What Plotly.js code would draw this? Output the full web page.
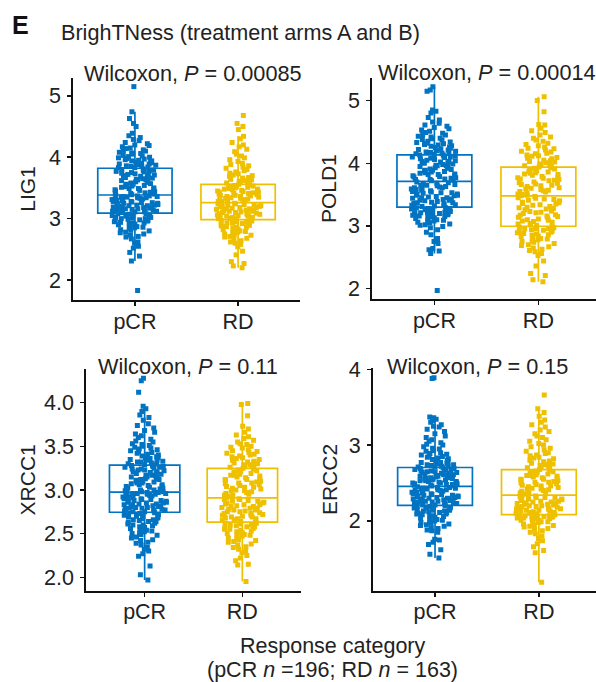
<!DOCTYPE html>
<html><head><meta charset="utf-8">
<script src="https://cdn.plot.ly/plotly-3.0.1.min.js"></script>
<style>html,body{margin:0;padding:0;background:#fff}#chart{width:596px;height:682px}</style>
</head><body><div id="chart"></div>
<script>
// ---------- data ----------
const categories = ['pCR', 'RD'];
const genes = ['LIG1', 'POLD1', 'XRCC1', 'ERCC2'];
const pValues = ['0.00085', '0.00014', '0.11', '0.15'];
const groupSizes = [196, 163];

const lig1_pCR = [1.83, 2.31, 2.39, 2.45, 2.52, 2.55, 2.6, 2.62, 2.67, 2.7, 2.71, 2.73, 2.75, 2.77, 2.78, 2.8, 2.81, 2.82, 2.84, 2.85, 2.86, 2.87, 2.89, 2.9, 2.91, 2.92, 2.93, 2.93, 2.94, 2.95, 2.96, 2.97, 2.97, 2.98, 2.99, 3.0, 3.0, 3.01, 3.02, 3.02, 3.03, 3.04, 3.04, 3.05, 3.06, 3.06, 3.07, 3.08, 3.08,
  3.10, 3.11, 3.11, 3.12, 3.12, 3.13, 3.14, 3.14, 3.15, 3.15, 3.16, 3.16, 3.17, 3.18, 3.18, 3.19, 3.19, 3.2, 3.21, 3.21, 3.22, 3.22, 3.23, 3.23, 3.24, 3.25, 3.25, 3.26, 3.26, 3.27, 3.28, 3.28, 3.29, 3.29, 3.3, 3.31, 3.31, 3.32, 3.32, 3.33, 3.34, 3.34, 3.35, 3.35, 3.36, 3.36, 3.37, 3.37, 3.38,
  3.39, 3.40, 3.41, 3.41, 3.42, 3.43, 3.44, 3.45, 3.46, 3.47, 3.48, 3.49, 3.49, 3.5, 3.51, 3.52, 3.53, 3.54, 3.55, 3.56, 3.56, 3.57, 3.58, 3.59, 3.6, 3.61, 3.62, 3.63, 3.63, 3.64, 3.65, 3.66, 3.67, 3.68, 3.69, 3.7, 3.7, 3.71, 3.72, 3.73, 3.74, 3.75, 3.76, 3.77, 3.77, 3.78, 3.79, 3.8, 3.81,
  3.83, 3.83, 3.84, 3.85, 3.85, 3.86, 3.87, 3.88, 3.89, 3.89, 3.90, 3.91, 3.92, 3.93, 3.94, 3.94, 3.95, 3.96, 3.97, 3.98, 3.99, 4.0, 4.01, 4.02, 4.03, 4.05, 4.06, 4.07, 4.08, 4.10, 4.11, 4.12, 4.14, 4.15, 4.17, 4.19, 4.2, 4.22, 4.24, 4.27, 4.29, 4.32, 4.35, 4.39, 4.5, 4.55, 4.63, 4.74, 5.15];
const lig1_RD = [2.2, 2.23, 2.27, 2.3, 2.41, 2.47, 2.54, 2.58, 2.6, 2.62, 2.64, 2.66, 2.68, 2.7, 2.71, 2.73, 2.74, 2.75, 2.77, 2.78, 2.79, 2.8, 2.81, 2.82, 2.83, 2.85, 2.86, 2.86, 2.87, 2.88, 2.89, 2.9, 2.91, 2.92, 2.93, 2.93, 2.94, 2.95, 2.96, 2.97, 2.98,
  2.99, 3.0, 3.0, 3.01, 3.02, 3.02, 3.03, 3.04, 3.04, 3.05, 3.06, 3.06, 3.07, 3.08, 3.08, 3.09, 3.1, 3.1, 3.11, 3.12, 3.12, 3.13, 3.14, 3.14, 3.15, 3.16, 3.16, 3.17, 3.18, 3.18, 3.19, 3.2, 3.2, 3.21, 3.22, 3.22, 3.23, 3.24, 3.24, 3.25,
  3.26,
  3.27, 3.28, 3.28, 3.29, 3.3, 3.31, 3.31, 3.32, 3.33, 3.33, 3.34, 3.35, 3.36, 3.36, 3.37, 3.38, 3.38, 3.39, 3.4, 3.41, 3.41, 3.42, 3.43, 3.43, 3.44, 3.45, 3.46, 3.46, 3.47, 3.48, 3.48, 3.49, 3.5, 3.51, 3.51, 3.52, 3.53, 3.53, 3.54, 3.55,
  3.56, 3.57, 3.58, 3.59, 3.6, 3.61, 3.62, 3.63, 3.64, 3.65, 3.66, 3.67, 3.69, 3.7, 3.71, 3.73, 3.74, 3.76, 3.78, 3.8, 3.82, 3.84, 3.86, 3.88, 3.9, 3.93, 3.96, 3.99, 4.02, 4.05, 4.09, 4.13, 4.17, 4.2, 4.24, 4.3, 4.34, 4.45, 4.5, 4.55, 4.68];

const pold1_pCR = [1.97, 2.56, 2.6, 2.62, 2.64, 2.72, 2.75, 2.8, 2.86, 2.9, 2.94, 2.97, 2.99, 3.01, 3.02, 3.03, 3.05, 3.06, 3.07, 3.08, 3.09, 3.10, 3.11, 3.12, 3.13, 3.14, 3.15, 3.15, 3.16, 3.17, 3.18, 3.19, 3.19, 3.20, 3.21, 3.21, 3.22, 3.23, 3.23, 3.24, 3.25, 3.25, 3.26, 3.27, 3.27, 3.28, 3.28, 3.29, 3.29,
  3.31, 3.32, 3.33, 3.33, 3.34, 3.35, 3.36, 3.37, 3.37, 3.38, 3.39, 3.40, 3.41, 3.41, 3.42, 3.43, 3.44, 3.45, 3.45, 3.46, 3.47, 3.48, 3.49, 3.49, 3.5, 3.51, 3.52, 3.53, 3.53, 3.54, 3.55, 3.56, 3.57, 3.57, 3.58, 3.59, 3.6, 3.61, 3.61, 3.62, 3.63, 3.64, 3.65, 3.65, 3.66, 3.67, 3.68, 3.69, 3.70,
  3.72, 3.73, 3.74, 3.74, 3.75, 3.76, 3.77, 3.78, 3.79, 3.8, 3.81, 3.82, 3.82, 3.83, 3.84, 3.85, 3.86, 3.87, 3.88, 3.89, 3.89, 3.9, 3.91, 3.92, 3.93, 3.94, 3.95, 3.96, 3.96, 3.97, 3.98, 3.99, 4.0, 4.01, 4.02, 4.03, 4.03, 4.04, 4.05, 4.06, 4.07, 4.08, 4.09, 4.1, 4.1, 4.11, 4.12, 4.13, 4.13,
  4.14, 4.15, 4.16, 4.16, 4.17, 4.18, 4.19, 4.2, 4.21, 4.22, 4.23, 4.24, 4.25, 4.26, 4.27, 4.28, 4.29, 4.30, 4.31, 4.32, 4.33, 4.34, 4.35, 4.37, 4.38, 4.39, 4.4, 4.42, 4.43, 4.45, 4.46, 4.48, 4.49, 4.51, 4.53, 4.55, 4.57, 4.59, 4.61, 4.64, 4.66, 4.69, 4.73, 4.8, 4.83, 4.85, 5.15, 5.17, 5.22];
const pold1_RD = [2.11, 2.14, 2.21, 2.24, 2.36, 2.44, 2.53, 2.56, 2.59, 2.61, 2.63, 2.65, 2.67, 2.69, 2.70, 2.72, 2.74, 2.75, 2.76, 2.78, 2.79, 2.80, 2.81, 2.83, 2.84, 2.85, 2.86, 2.87, 2.88, 2.89, 2.90, 2.91, 2.92, 2.93, 2.94, 2.95, 2.96, 2.96, 2.97, 2.98, 2.99,
  3.01, 3.02, 3.03, 3.04, 3.06, 3.07, 3.08, 3.09, 3.1, 3.11, 3.13, 3.14, 3.15, 3.16, 3.17, 3.18, 3.2, 3.21, 3.22, 3.23, 3.24, 3.26, 3.27, 3.28, 3.29, 3.3, 3.31, 3.33, 3.34, 3.35, 3.36, 3.37, 3.38, 3.4, 3.41, 3.42, 3.43, 3.44, 3.45, 3.47,
  3.48,
  3.49, 3.5, 3.51, 3.52, 3.54, 3.55, 3.56, 3.57, 3.58, 3.59, 3.6, 3.61, 3.63, 3.64, 3.65, 3.66, 3.67, 3.68, 3.69, 3.7, 3.72, 3.73, 3.74, 3.75, 3.76, 3.77, 3.78, 3.79, 3.81, 3.82, 3.83, 3.84, 3.85, 3.86, 3.87, 3.88, 3.9, 3.91, 3.92, 3.93,
  3.94, 3.95, 3.96, 3.97, 3.98, 3.99, 4.01, 4.02, 4.03, 4.04, 4.05, 4.07, 4.08, 4.09, 4.11, 4.12, 4.13, 4.15, 4.16, 4.18, 4.19, 4.21, 4.23, 4.24, 4.26, 4.28, 4.30, 4.32, 4.35, 4.37, 4.40, 4.42, 4.45, 4.49, 4.52, 4.56, 4.61, 4.62, 4.82, 5.0, 5.06];

const xrcc1_pCR = [1.97, 2.03, 2.13, 2.24, 2.27, 2.3, 2.32, 2.34, 2.37, 2.39, 2.40, 2.42, 2.43, 2.45, 2.46, 2.48, 2.49, 2.5, 2.51, 2.52, 2.53, 2.54, 2.55, 2.56, 2.57, 2.58, 2.59, 2.6, 2.6, 2.61, 2.62, 2.63, 2.64, 2.64, 2.65, 2.66, 2.66, 2.67, 2.68, 2.69, 2.69, 2.70, 2.70, 2.71, 2.72, 2.72, 2.73, 2.73, 2.74,
  2.75, 2.75, 2.76, 2.76, 2.77, 2.77, 2.78, 2.78, 2.79, 2.79, 2.8, 2.8, 2.81, 2.81, 2.82, 2.82, 2.83, 2.83, 2.84, 2.84, 2.85, 2.85, 2.86, 2.86, 2.87, 2.87, 2.88, 2.88, 2.89, 2.89, 2.9, 2.9, 2.91, 2.91, 2.92, 2.92, 2.93, 2.93, 2.94, 2.94, 2.95, 2.95, 2.95, 2.96, 2.96, 2.96, 2.97, 2.97, 2.97,
  2.98, 2.98, 2.99, 3.0, 3.0, 3.01, 3.02, 3.02, 3.03, 3.04, 3.04, 3.05, 3.06, 3.06, 3.07, 3.08, 3.08, 3.09, 3.1, 3.1, 3.11, 3.12, 3.12, 3.13, 3.13, 3.14, 3.15, 3.15, 3.16, 3.17, 3.17, 3.18, 3.19, 3.19, 3.2, 3.21, 3.21, 3.22, 3.23, 3.23, 3.24, 3.24, 3.25, 3.26, 3.26, 3.27, 3.27, 3.28, 3.28,
  3.29, 3.3, 3.3, 3.31, 3.32, 3.32, 3.33, 3.34, 3.34, 3.35, 3.36, 3.37, 3.37, 3.38, 3.39, 3.4, 3.41, 3.42, 3.43, 3.44, 3.45, 3.46, 3.47, 3.48, 3.49, 3.5, 3.51, 3.52, 3.53, 3.55, 3.56, 3.58, 3.6, 3.62, 3.64, 3.66, 3.68, 3.71, 3.74, 3.76, 3.8, 3.83, 3.86, 3.9, 3.93, 3.96, 4.12, 4.25, 4.28];
const xrcc1_RD = [1.95, 2.14, 2.15, 2.19, 2.22, 2.25, 2.28, 2.30, 2.32, 2.34, 2.35, 2.37, 2.38, 2.40, 2.41, 2.42, 2.43, 2.45, 2.46, 2.47, 2.48, 2.49, 2.49, 2.5, 2.51, 2.52, 2.53, 2.54, 2.55, 2.55, 2.56, 2.57, 2.58, 2.58, 2.59, 2.6, 2.6, 2.61, 2.62, 2.62, 2.63,
  2.64, 2.65, 2.65, 2.66, 2.67, 2.67, 2.68, 2.69, 2.69, 2.7, 2.71, 2.71, 2.72, 2.73, 2.73, 2.74, 2.75, 2.75, 2.76, 2.77, 2.77, 2.78, 2.79, 2.79, 2.8, 2.81, 2.81, 2.82, 2.83, 2.83, 2.84, 2.85, 2.85, 2.86, 2.87, 2.87, 2.88, 2.89, 2.89, 2.9,
  2.91,
  2.92, 2.93, 2.94, 2.94, 2.95, 2.96, 2.97, 2.98, 2.99, 2.99, 3.0, 3.01, 3.02, 3.03, 3.03, 3.04, 3.05, 3.06, 3.07, 3.08, 3.08, 3.09, 3.1, 3.11, 3.12, 3.12, 3.13, 3.14, 3.15, 3.16, 3.17, 3.17, 3.18, 3.19, 3.2, 3.21, 3.21, 3.22, 3.23, 3.24,
  3.25, 3.26, 3.26, 3.27, 3.28, 3.29, 3.29, 3.3, 3.31, 3.32, 3.32, 3.33, 3.34, 3.35, 3.36, 3.37, 3.38, 3.39, 3.40, 3.41, 3.42, 3.43, 3.44, 3.45, 3.46, 3.48, 3.49, 3.50, 3.52, 3.53, 3.55, 3.57, 3.59, 3.61, 3.63, 3.66, 3.7, 3.73, 3.85, 3.98, 3.99];

const ercc2_pCR = [1.51, 1.56, 1.62, 1.69, 1.72, 1.75, 1.76, 1.85, 1.87, 1.88, 1.90, 1.91, 1.93, 1.94, 1.95, 1.96, 1.97, 1.98, 1.99, 2.0, 2.01, 2.02, 2.03, 2.04, 2.05, 2.06, 2.06, 2.07, 2.08, 2.09, 2.09, 2.1, 2.11, 2.11, 2.12, 2.13, 2.13, 2.14, 2.14, 2.15, 2.16, 2.16, 2.17, 2.17, 2.18, 2.18, 2.19, 2.19, 2.2,
  2.21, 2.21, 2.22, 2.22, 2.23, 2.23, 2.24, 2.24, 2.25, 2.25, 2.26, 2.26, 2.27, 2.27, 2.28, 2.28, 2.29, 2.29, 2.3, 2.3, 2.31, 2.31, 2.32, 2.32, 2.33, 2.33, 2.34, 2.34, 2.35, 2.35, 2.36, 2.36, 2.37, 2.37, 2.38, 2.38, 2.39, 2.39, 2.4, 2.4, 2.41, 2.41, 2.42, 2.42, 2.43, 2.43, 2.44, 2.44, 2.45,
  2.46, 2.46, 2.47, 2.47, 2.48, 2.48, 2.49, 2.49, 2.5, 2.5, 2.51, 2.51, 2.52, 2.52, 2.53, 2.53, 2.54, 2.54, 2.55, 2.55, 2.56, 2.56, 2.57, 2.57, 2.58, 2.58, 2.59, 2.59, 2.6, 2.6, 2.61, 2.61, 2.62, 2.62, 2.63, 2.63, 2.64, 2.64, 2.65, 2.65, 2.66, 2.66, 2.67, 2.67, 2.68, 2.68, 2.69, 2.69, 2.7,
  2.71, 2.71, 2.72, 2.72, 2.73, 2.74, 2.74, 2.75, 2.76, 2.77, 2.77, 2.78, 2.79, 2.8, 2.81, 2.82, 2.83, 2.84, 2.85, 2.86, 2.87, 2.88, 2.89, 2.9, 2.92, 2.93, 2.95, 2.96, 2.98, 3.0, 3.01, 3.03, 3.05, 3.07, 3.1, 3.12, 3.15, 3.18, 3.21, 3.24, 3.25, 3.27, 3.3, 3.32, 3.34, 3.36, 3.37, 3.88, 3.89];
const ercc2_RD = [1.19, 1.58, 1.61, 1.66, 1.7, 1.74, 1.77, 1.8, 1.83, 1.85, 1.87, 1.89, 1.9, 1.92, 1.93, 1.94, 1.95, 1.96, 1.97, 1.98, 1.99, 1.99, 2.0, 2.01, 2.01, 2.02, 2.03, 2.03, 2.04, 2.04, 2.05, 2.05, 2.06, 2.06, 2.06, 2.07, 2.07, 2.07, 2.08, 2.08, 2.08,
  2.09, 2.1, 2.1, 2.11, 2.11, 2.12, 2.13, 2.13, 2.14, 2.14, 2.15, 2.16, 2.16, 2.17, 2.17, 2.18, 2.19, 2.19, 2.2, 2.2, 2.21, 2.22, 2.22, 2.23, 2.23, 2.24, 2.25, 2.25, 2.26, 2.26, 2.27, 2.28, 2.28, 2.29, 2.29, 2.3, 2.31, 2.31, 2.32, 2.33,
  2.34,
  2.35, 2.36, 2.37, 2.37, 2.38, 2.39, 2.4, 2.41, 2.42, 2.42, 2.43, 2.44, 2.45, 2.46, 2.46, 2.47, 2.48, 2.49, 2.5, 2.51, 2.51, 2.52, 2.53, 2.54, 2.55, 2.55, 2.56, 2.57, 2.58, 2.59, 2.6, 2.6, 2.61, 2.62, 2.63, 2.64, 2.64, 2.65, 2.66, 2.67,
  2.68, 2.69, 2.7, 2.71, 2.72, 2.73, 2.74, 2.75, 2.76, 2.77, 2.78, 2.79, 2.8, 2.82, 2.83, 2.84, 2.86, 2.87, 2.89, 2.9, 2.92, 2.94, 2.96, 2.98, 3.0, 3.02, 3.05, 3.07, 3.1, 3.12, 3.15, 3.18, 3.2, 3.24, 3.27, 3.3, 3.33, 3.38, 3.43, 3.48, 3.66];

const seriesByGene = [[lig1_pCR, lig1_RD], [pold1_pCR, pold1_RD], [xrcc1_pCR, xrcc1_RD], [ercc2_pCR, ercc2_RD]];

// ---------- styling ----------
const W = 596, H = 682;
const COLORS = ['#0073C2', '#EFC000'];
const FONT = 'Liberation Sans, Arial, Helvetica, sans-serif';
const INK = '#222222';
const TICK_SIZE = 21.5;
// panel boxes in pixels: [left, right], [top, bottom]
const panels = [
  {px: [73, 300], py: [78, 300], xr: [-0.6, 1.6], yr: [1.675, 5.29], tv: [2, 3, 4, 5], fmt: '', standoff: 7, title: [82, 73]},
  {px: [372, 596], py: [78, 299.3], xr: [-0.6, 1.554], yr: [1.83, 5.36], tv: [2, 3, 4, 5], fmt: '', standoff: 5.5, title: [376, 72]},
  {px: [86, 301], py: [369, 590.7], xr: [-0.6, 1.6], yr: [1.846, 4.386], tv: [2, 2.5, 3, 3.5, 4], fmt: '.1f', standoff: 3, title: [96, 366]},
  {px: [372.7, 596], py: [368.3, 590.7], xr: [-0.6, 1.55], yr: [1.08, 4.013], tv: [2, 3, 4], fmt: '', standoff: 5.5, title: [385, 366]}
];

const traces = [];
const layout = {
  width: W, height: H,
  margin: {l: 0, r: 0, t: 0, b: 0},
  paper_bgcolor: '#ffffff', plot_bgcolor: '#ffffff',
  showlegend: false,
  font: {family: FONT, color: INK, size: 21},
  boxmode: 'overlay',
  annotations: []
};

genes.forEach((g, k) => {
  const s = k === 0 ? '' : String(k + 1);
  const p = panels[k];
  categories.forEach((c, j) => {
    traces.push({
      type: 'box', y: seriesByGene[k][j], name: c,
      xaxis: 'x' + s, yaxis: 'y' + s,
      boxpoints: 'all', jitter: 0.62, pointpos: 0,
      width: 0.72, whiskerwidth: 0,
      fillcolor: 'rgba(255,255,255,0)',
      line: {color: COLORS[j], width: 1.7},
      marker: {symbol: 'square', size: 5, color: COLORS[j], opacity: 1},
      hoverinfo: 'skip'
    });
  });
  layout['xaxis' + s] = {
    domain: [p.px[0] / W, p.px[1] / W], anchor: 'y' + s,
    type: 'category', categoryorder: 'array', categoryarray: categories,
    range: p.xr, showline: true, linecolor: '#111', linewidth: 1.8,
    ticks: 'outside', ticklen: 4, tickwidth: 1.5, tickcolor: '#111',
    tickfont: {size: TICK_SIZE, color: INK, family: FONT}, ticklabelstandoff: -3,
    showgrid: false, zeroline: false, fixedrange: true
  };
  layout['yaxis' + s] = {
    domain: [1 - p.py[1] / H, 1 - p.py[0] / H], anchor: 'x' + s,
    range: p.yr, tickmode: 'array', tickvals: p.tv, tickformat: p.fmt,
    showline: true, linecolor: '#111', linewidth: 1.8,
    ticks: 'outside', ticklen: 4, tickwidth: 1.5, tickcolor: '#111',
    tickfont: {size: TICK_SIZE, color: INK, family: FONT}, ticklabelstandoff: 2,
    title: {text: g, font: {size: 21, color: INK, family: FONT}, standoff: p.standoff},
    showgrid: false, zeroline: false, fixedrange: true
  };
  layout.annotations.push({
    xref: 'paper', yref: 'paper', x: p.title[0] / W, y: 1 - p.title[1] / H,
    xanchor: 'left', yanchor: 'middle', showarrow: false,
    text: 'Wilcoxon, <i>P</i> = ' + pValues[k],
    font: {size: 21.7, color: INK, family: FONT}
  });
});

layout.annotations.push(
  {xref: 'paper', yref: 'paper', x: 10 / W, y: 1 - 25 / H, xanchor: 'left', yanchor: 'middle', showarrow: false,
   text: '<b>E</b>', font: {size: 25, color: '#111', family: FONT}},
  {xref: 'paper', yref: 'paper', x: 59 / W, y: 1 - 33 / H, xanchor: 'left', yanchor: 'middle', showarrow: false,
   text: 'BrighTNess (treatment arms A and B)', font: {size: 21.6, color: INK, family: FONT}},
  {xref: 'paper', yref: 'paper', x: 332 / W, y: 1 - 646 / H, xanchor: 'center', yanchor: 'middle', showarrow: false, borderpad: 0,
   text: 'Response category', font: {size: 21.5, color: INK, family: FONT}},
  {xref: 'paper', yref: 'paper', x: 332 / W, y: 1 - 669.5 / H, xanchor: 'center', yanchor: 'middle', showarrow: false, borderpad: 0,
   text: '(pCR <i>n</i> =' + groupSizes[0] + '; RD <i>n</i> = ' + groupSizes[1] + ')', font: {size: 21.5, color: INK, family: FONT}}
);

Plotly.newPlot('chart', traces, layout, {staticPlot: true, displayModeBar: false});
</script>
</body></html>
